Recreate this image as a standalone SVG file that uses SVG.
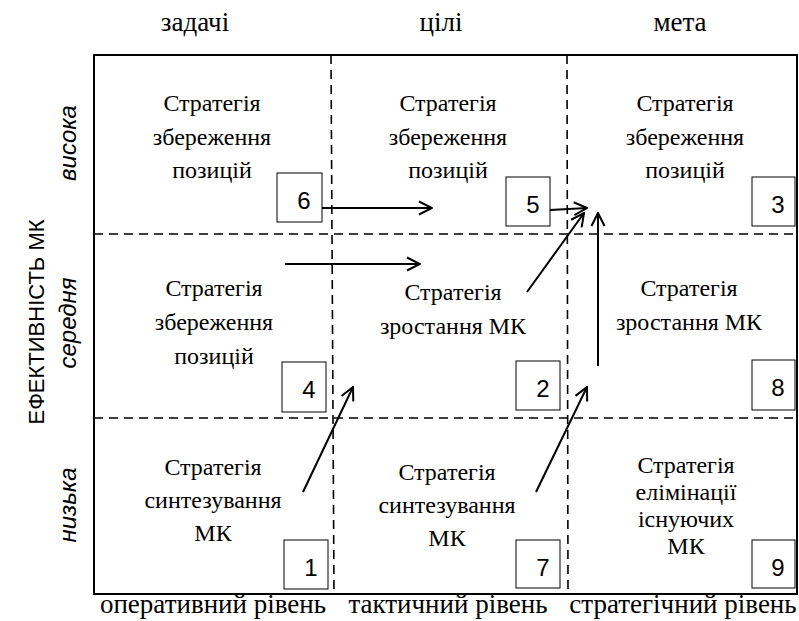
<svg xmlns="http://www.w3.org/2000/svg" width="799" height="621" viewBox="0 0 799 621">
  <defs>
    <style>
      .lbl { font-family: "Liberation Serif", "Times New Roman", serif; font-size: 24px; fill: #000; text-anchor: middle; }
      .hdr { font-family: "Liberation Serif", "Times New Roman", serif; font-size: 27px; fill: #000; text-anchor: middle; }
      .axis { font-family: "Liberation Sans", Arial, sans-serif; font-size: 22px; fill: #000; text-anchor: middle; }
      .lvl { font-family: "Liberation Sans", Arial, sans-serif; font-size: 24px; font-style: italic; fill: #000; text-anchor: middle; }
      .num { font-family: "Liberation Sans", Arial, sans-serif; font-size: 24px; fill: #000; text-anchor: middle; }
      .nbox { fill: #fff; stroke: #000; stroke-width: 1; }
      .frame { fill: none; stroke: #000; stroke-width: 2; }
      .grid { stroke: #000; stroke-width: 1.6; stroke-dasharray: 9 6; fill: none; }
      .arr { stroke: #000; stroke-width: 2; fill: none; marker-end: url(#head); }
    </style>
    <marker id="head" viewBox="0 0 16 16" refX="15" refY="8" markerWidth="16" markerHeight="16" markerUnits="userSpaceOnUse" orient="auto">
      <path d="M2,1.5 L15,8 L2,14.5" fill="none" stroke="#000" stroke-width="2"/>
    </marker>
  </defs>

  <rect width="799" height="621" fill="#fff"/>

  <!-- column headings -->
  <text class="hdr" x="195" y="31">задачі</text>
  <text class="hdr" x="441" y="31">цілі</text>
  <text class="hdr" x="680" y="31">мета</text>

  <!-- level headings -->
  <text class="hdr" x="213" y="613">оперативний рівень</text>
  <text class="hdr" x="448" y="613">тактичний рівень</text>
  <text class="hdr" x="683" y="613">стратегічний рівень</text>

  <!-- vertical axis -->
  <text class="axis" transform="translate(44 322) rotate(-90)">ЕФЕКТИВНІСТЬ МК</text>
  <text class="lvl" transform="translate(76 143) rotate(-90)">висока</text>
  <text class="lvl" transform="translate(76 323) rotate(-90)">середня</text>
  <text class="lvl" transform="translate(76 505) rotate(-90)">низька</text>

  <!-- matrix frame and dividers -->
  <rect class="frame" x="94" y="55" width="703" height="539"/>
  <line class="grid" x1="331" y1="55" x2="334" y2="594"/>
  <line class="grid" x1="567" y1="55" x2="568" y2="594"/>
  <line class="grid" x1="94" y1="234" x2="797" y2="234"/>
  <line class="grid" x1="94" y1="418" x2="797" y2="418"/>

  <g id="cell-6">
    <text class="lbl"><tspan x="212" y="111">Стратегія</tspan><tspan x="212" y="145">збереження</tspan><tspan x="212" y="178">позицій</tspan></text>
    <rect class="nbox" x="277" y="173" width="45" height="49"/>
    <text class="num" x="304" y="209">6</text>
  </g>
  <g id="cell-5">
    <text class="lbl"><tspan x="448" y="111">Стратегія</tspan><tspan x="448" y="145">збереження</tspan><tspan x="448" y="178">позицій</tspan></text>
    <rect class="nbox" x="506" y="177" width="44" height="49"/>
    <text class="num" x="533" y="213">5</text>
  </g>
  <g id="cell-3">
    <text class="lbl"><tspan x="685" y="111">Стратегія</tspan><tspan x="685" y="145">збереження</tspan><tspan x="685" y="178">позицій</tspan></text>
    <rect class="nbox" x="752" y="177" width="43" height="49"/>
    <text class="num" x="778" y="213">3</text>
  </g>
  <g id="cell-4">
    <text class="lbl"><tspan x="214" y="296">Стратегія</tspan><tspan x="214" y="330">збереження</tspan><tspan x="214" y="364">позицій</tspan></text>
    <rect class="nbox" x="282" y="362" width="44" height="50"/>
    <text class="num" x="309" y="398">4</text>
  </g>
  <g id="cell-2">
    <text class="lbl"><tspan x="453" y="300">Стратегія</tspan><tspan x="453" y="334">зростання МК</tspan></text>
    <rect class="nbox" x="516" y="361" width="44" height="49"/>
    <text class="num" x="543" y="397">2</text>
  </g>
  <g id="cell-8">
    <text class="lbl"><tspan x="689" y="296">Стратегія</tspan><tspan x="689" y="330">зростання МК</tspan></text>
    <rect class="nbox" x="752" y="360" width="43" height="50"/>
    <text class="num" x="778" y="396">8</text>
  </g>
  <g id="cell-1">
    <text class="lbl"><tspan x="213" y="475">Стратегія</tspan><tspan x="213" y="508">синтезування</tspan><tspan x="213" y="541">МК</tspan></text>
    <rect class="nbox" x="284" y="540" width="44" height="49"/>
    <text class="num" x="311" y="576">1</text>
  </g>
  <g id="cell-7">
    <text class="lbl"><tspan x="447" y="480">Стратегія</tspan><tspan x="447" y="513">синтезування</tspan><tspan x="447" y="546">МК</tspan></text>
    <rect class="nbox" x="516" y="540" width="44" height="48"/>
    <text class="num" x="543" y="576">7</text>
  </g>
  <g id="cell-9">
    <text class="lbl"><tspan x="686" y="473">Стратегія</tspan><tspan x="686" y="500">елімінації</tspan><tspan x="686" y="527">існуючих</tspan><tspan x="686" y="554">МК</tspan></text>
    <rect class="nbox" x="752" y="540" width="43" height="48"/>
    <text class="num" x="778" y="576">9</text>
  </g>

  <g id="connectors">
    <line class="arr" x1="322" y1="208" x2="432" y2="208"/>
    <line class="arr" x1="285" y1="264" x2="420" y2="264"/>
    <line class="arr" x1="550" y1="210" x2="587" y2="208"/>
    <line class="arr" x1="527" y1="292" x2="584" y2="213"/>
    <line class="arr" x1="598" y1="366" x2="598" y2="213"/>
    <line class="arr" x1="303" y1="492" x2="353" y2="387"/>
    <line class="arr" x1="536" y1="492" x2="587" y2="387"/>
  </g>
</svg>
